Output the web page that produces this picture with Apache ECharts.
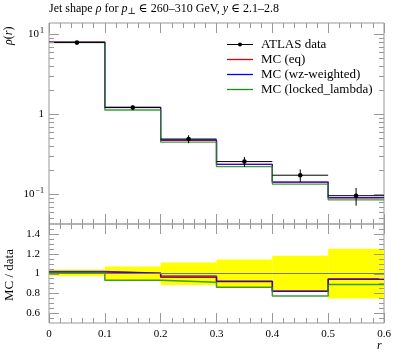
<!DOCTYPE html>
<html><head><meta charset="utf-8">
<script src="https://cdn.jsdelivr.net/npm/echarts@6/dist/echarts.min.js"></script>
<style>html,body{margin:0;padding:0;background:#fff}#c{width:397px;height:358px}</style>
</head><body><div id="c"></div>
<script>
// ---- data ----
const binEdges = [0, 0.1, 0.2, 0.3, 0.4, 0.5, 0.6];
const dataVals = [7.85, 1.21, 0.49, 0.256, 0.173, 0.096];
const dataErrs = [0.24, 0.085, 0.056, 0.036, 0.031, 0.024];
const mcEq = [7.95, 1.215, 0.472, 0.236, 0.142, 0.0905];
const mcWz = [7.98, 1.215, 0.477, 0.236, 0.142, 0.0907];
const mcLocked = [7.9, 1.13, 0.447, 0.221, 0.134, 0.0853];
const ratioEq = [1.015, 1.003, 0.963, 0.92, 0.82, 0.942];
const ratioWz = [1.02, 1.003, 0.975, 0.922, 0.82, 0.945];
const ratioLocked = [1.01, 0.932, 0.912, 0.861, 0.773, 0.888];
const bandLo = [0.973, 0.93, 0.885, 0.857, 0.82, 0.748];
const bandHi = [1.04, 1.071, 1.112, 1.142, 1.18, 1.25];
const xTickLabels = ['0', '0.1', '0.2', '0.3', '0.4', '0.5', '0.6'];
const mainMajorTicks = [0.1, 1, 10];
const ratioMajorTicks = [0.6, 0.8, 1, 1.2, 1.4];
const ratioTickLabels = ['0.6', '0.8', '1', '1.2', '1.4'];

const FONT = '"Liberation Serif", "DejaVu Serif", serif';
const GRAY = '#999';
const X_MIN = 0, X_MAX = 0.6;
const RED = '#e00000', BLUE = '#0000ff', GREEN = '#1a8c1a';
const LINE_ICON = 'path://M0,2.35H26V3.65H0Z';

function steps(vals) {
  const pts = vals.map((v, i) => [binEdges[i], v]);
  pts.push([binEdges[binEdges.length - 1], vals[vals.length - 1]]);
  return pts;
}

// minor ticks
const mainMinorTicks = [];
[0.01, 0.1, 1].forEach(d => { for (let k = 2; k <= 9; k++) mainMinorTicks.push(+(k * d).toPrecision(3)); });
const ratioMinorTicks = [];
for (let v = 0.55; v < 1.5; v += 0.05) {
  const r = +v.toFixed(2);
  if (!ratioMajorTicks.some(m => Math.abs(m - r) < 1e-6)) ratioMinorTicks.push(r);
}

function tickSeries(xi, yi, majors, minors, lo, hi) {
  const items = majors.map(v => [v, 10]).concat(minors.filter(v => v > lo && v < hi).map(v => [v, 5]));
  return {
    type: 'custom', xAxisIndex: xi, yAxisIndex: yi, silent: true, z: 6,
    data: items,
    renderItem(params, api) {
      const v = api.value(0), len = api.value(1);
      const l = api.coord([X_MIN, v]), r = api.coord([X_MAX, v]);
      const y = Math.round(l[1]) + 0.5;
      return { type: 'group', children: [
        { type: 'line', shape: { x1: l[0], y1: y, x2: l[0] + len, y2: y }, style: { stroke: GRAY, lineWidth: 1 } },
        { type: 'line', shape: { x1: r[0] - len, y1: y, x2: r[0], y2: y }, style: { stroke: GRAY, lineWidth: 1 } }
      ]};
    }
  };
}

const chart = echarts.init(document.getElementById('c'), null, { renderer: 'canvas' });

function xAxis(gi, pos, showLabel) {
  return {
    type: 'value', gridIndex: gi, position: pos, min: X_MIN, max: X_MAX, interval: 0.1,
    axisLine: { show: false },
    axisTick: { show: true, inside: true, length: 10, lineStyle: { color: GRAY } },
    minorTick: { show: true, splitNumber: 5, length: 5, lineStyle: { color: GRAY } },
    splitLine: { show: false }, minorSplitLine: { show: false },
    axisLabel: {
      show: showLabel, margin: 6, fontFamily: FONT, fontSize: 11, color: '#000',
      formatter: v => { const i = Math.round(v * 10); return xTickLabels[i] !== undefined ? xTickLabels[i] : ''; }
    }
  };
}

const option = {
  animation: false,
  backgroundColor: '#fff',
  grid: [
    { left: 49, right: 13, top: 23, height: 201, show: true, borderColor: GRAY, borderWidth: 1, backgroundColor: 'transparent' },
    { left: 49, right: 13, top: 224, height: 99, show: true, borderColor: GRAY, borderWidth: 1, backgroundColor: 'transparent' }
  ],
  xAxis: [xAxis(0, 'bottom', false), xAxis(0, 'top', false), xAxis(1, 'bottom', true), xAxis(1, 'top', false)],
  yAxis: [
    {
      type: 'log', logBase: 10, gridIndex: 0, position: 'left', min: 0.0425, max: 13.8,
      axisLine: { show: false }, axisTick: { show: false }, splitLine: { show: false },
      axisLabel: {
        show: true, margin: 5, showMinLabel: false, showMaxLabel: false, fontFamily: FONT, fontSize: 11, color: '#000',
        formatter: v => {
          if (Math.abs(v - 10) < 1e-6) return '{b|10}{s|1}';
          if (Math.abs(v - 1) < 1e-6) return '{b|1}';
          if (Math.abs(v - 0.1) < 1e-6) return '{b|10}{s|−1}';
          return '';
        },
        rich: {
          b: { fontFamily: FONT, fontSize: 11, color: '#000' },
          s: { fontFamily: FONT, fontSize: 8, color: '#000', padding: [0, 0, 7, 1] }
        }
      }
    },
    { type: 'log', logBase: 10, gridIndex: 0, position: 'right', min: 0.0425, max: 13.8,
      axisLine: { show: false }, axisTick: { show: false }, splitLine: { show: false }, axisLabel: { show: false } },
    {
      type: 'value', gridIndex: 1, position: 'left', min: 0.5, max: 1.5, interval: 0.1,
      axisLine: { show: false }, axisTick: { show: false }, splitLine: { show: false },
      axisLabel: {
        show: true, margin: 9, fontFamily: FONT, fontSize: 11, color: '#000',
        formatter: v => { const i = ratioMajorTicks.findIndex(m => Math.abs(m - v) < 1e-6); return i >= 0 ? ratioTickLabels[i] : ''; }
      }
    },
    { type: 'value', gridIndex: 1, position: 'right', min: 0.5, max: 1.5, interval: 0.1,
      axisLine: { show: false }, axisTick: { show: false }, splitLine: { show: false }, axisLabel: { show: false } }
  ],
  legend: {
    left: 227, top: 38, padding: 0, orient: 'vertical', itemGap: 2, itemWidth: 26, itemHeight: 6,
    textStyle: { fontFamily: FONT, fontSize: 13, color: '#000', lineHeight: 13, padding: [0, 0, 0, 3] },
    data: [
      { name: 'ATLAS data', icon: 'path://M0,4.1H26V4.9H0Z M11,4.5A2,2,0,1,1,15,4.5A2,2,0,1,1,11,4.5Z' },
      { name: 'MC (eq)', icon: LINE_ICON },
      { name: 'MC (wz-weighted)', icon: LINE_ICON },
      { name: 'MC (locked_lambda)', icon: LINE_ICON }
    ]
  },
  graphic: [
    { type: 'text', left: 49, top: 3, style: {
      text: '{n|Jet shape }{i|ρ}{n| for }{i|p}{sub|⊥}{n| ∈ 260–310 GeV, }{i|y}{n| ∈ 2.1–2.8}',
      rich: {
        n: { fontFamily: FONT, fontSize: 12, color: '#000' },
        i: { fontFamily: FONT, fontSize: 12, fontStyle: 'italic', color: '#000' },
        sub: { fontFamily: FONT, fontSize: 9, color: '#000', padding: [5, 0, 0, 0] }
      } } },
    { type: 'text', x: 3, y: 45, rotation: Math.PI / 2, style: {
      text: '{i|ρ}{n|(}{i|r}{n|)}',
      rich: {
        n: { fontFamily: FONT, fontSize: 12, color: '#000' },
        i: { fontFamily: FONT, fontSize: 12, fontStyle: 'italic', color: '#000' }
      } } },
    { type: 'text', x: 3, y: 301, rotation: Math.PI / 2, style: { text: 'MC / data', fontFamily: FONT, fontSize: 13, fill: '#000' } },
    { type: 'text', x: 377, y: 340, style: { text: 'r', fontFamily: FONT, fontSize: 12, fontStyle: 'italic', fill: '#000' } }
  ],
  series: [
    // yellow data-uncertainty band in ratio panel
    {
      type: 'custom', name: 'band', xAxisIndex: 2, yAxisIndex: 2, silent: true, z: 1,
      data: bandLo.map((lo, i) => [binEdges[i], binEdges[i + 1], lo, bandHi[i]]),
      renderItem(params, api) {
        const a = api.coord([api.value(0), api.value(3)]);
        const b = api.coord([api.value(1), api.value(2)]);
        return { type: 'rect', shape: { x: a[0], y: a[1], width: b[0] - a[0], height: b[1] - a[1] }, style: { fill: '#ffff00' } };
      },
      markLine: { silent: true, symbol: 'none', label: { show: false },
        lineStyle: { color: '#777', type: 'solid', width: 1 }, data: [{ yAxis: 1 }] }
    },
    // main panel MC
    { type: 'line', name: 'MC (eq)', xAxisIndex: 0, yAxisIndex: 0, step: 'end', showSymbol: false, symbol: 'none', z: 3,
      data: steps(mcEq), lineStyle: { color: RED, width: 1.3 }, itemStyle: { color: RED } },
    { type: 'line', name: 'MC (wz-weighted)', xAxisIndex: 0, yAxisIndex: 0, step: 'end', showSymbol: false, symbol: 'none', z: 3,
      data: steps(mcWz), lineStyle: { color: BLUE, width: 1.3, opacity: 0.75 }, itemStyle: { color: BLUE } },
    { type: 'line', name: 'MC (locked_lambda)', xAxisIndex: 0, yAxisIndex: 0, step: 'end', showSymbol: false, symbol: 'none', z: 3,
      data: steps(mcLocked), lineStyle: { color: GREEN, width: 1.3, opacity: 0.85 }, itemStyle: { color: GREEN } },
    // ratio panel MC
    { type: 'line', name: 'MC (eq)', xAxisIndex: 2, yAxisIndex: 2, step: 'end', showSymbol: false, symbol: 'none', z: 3,
      data: steps(ratioEq), lineStyle: { color: RED, width: 1.5 }, itemStyle: { color: RED } },
    { type: 'line', name: 'MC (wz-weighted)', xAxisIndex: 2, yAxisIndex: 2, step: 'end', showSymbol: false, symbol: 'none', z: 3,
      data: steps(ratioWz), lineStyle: { color: BLUE, width: 1.5, opacity: 0.7 }, itemStyle: { color: BLUE } },
    { type: 'line', name: 'MC (locked_lambda)', xAxisIndex: 2, yAxisIndex: 2, step: 'end', showSymbol: false, symbol: 'none', z: 3,
      data: steps(ratioLocked), lineStyle: { color: GREEN, width: 1.5, opacity: 0.85 }, itemStyle: { color: GREEN } },
    // data points with error bars
    {
      type: 'custom', name: 'ATLAS data', xAxisIndex: 0, yAxisIndex: 0, z: 4,
      itemStyle: { color: '#000' },
      data: dataVals.map((v, i) => [binEdges[i], binEdges[i + 1], v, dataErrs[i]]),
      renderItem(params, api) {
        const x0 = api.value(0), x1 = api.value(1), v = api.value(2), e = api.value(3);
        const xc = (x0 + x1) / 2;
        const pl = api.coord([x0, v]), pr = api.coord([x1, v]);
        const pt = api.coord([xc, v + e]), pb = api.coord([xc, v - e]);
        const pc = api.coord([xc, v]);
        return { type: 'group', children: [
          { type: 'line', shape: { x1: pl[0], y1: pl[1], x2: pr[0], y2: pr[1] }, style: { stroke: '#000', lineWidth: 1 } },
          { type: 'line', shape: { x1: pt[0], y1: pt[1], x2: pb[0], y2: pb[1] }, style: { stroke: '#000', lineWidth: 1 } },
          { type: 'circle', shape: { cx: pc[0], cy: pc[1], r: 2.3 }, style: { fill: '#000' } }
        ]};
      }
    },
    tickSeries(0, 0, mainMajorTicks, mainMinorTicks, 0.0425, 13.8),
    tickSeries(2, 2, ratioMajorTicks, ratioMinorTicks, 0.5, 1.5)
  ]
};
chart.setOption(option);
</script>
</body></html>
